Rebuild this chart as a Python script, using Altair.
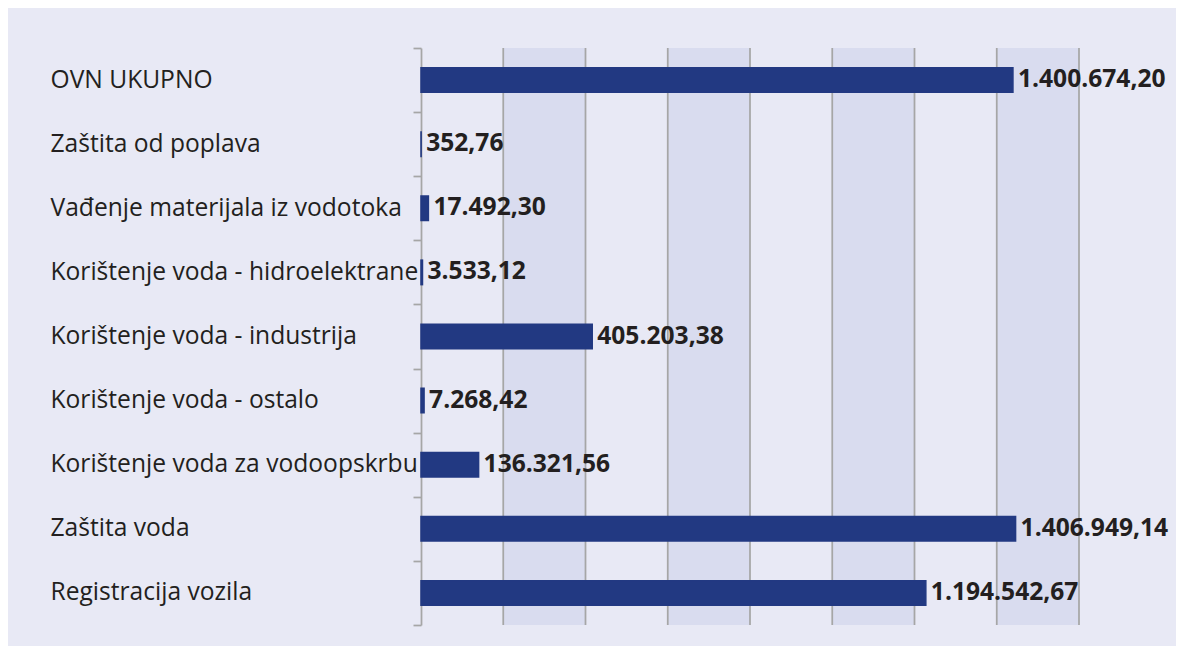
import altair as alt
import pandas as pd

categories = [
    "OVN UKUPNO",
    "Zaštita od poplava",
    "Vađenje materijala iz vodotoka",
    "Korištenje voda - hidroelektrane",
    "Korištenje voda - industrija",
    "Korištenje voda - ostalo",
    "Korištenje voda za vodoopskrbu",
    "Zaštita voda",
    "Registracija vozila",
]
values = [1400674.20, 352.76, 17492.30, 3533.12, 405203.38, 7268.42, 136321.56, 1406949.14, 1194542.67]

AXIS_MAX = 1557000
N_INT = 8
STEP = AXIS_MAX / N_INT


def fmt(v):
    s = f"{v:,.2f}"
    return s.replace(",", "X").replace(".", ",").replace("X", ".")


labels = [fmt(v) for v in values]
df = pd.DataFrame({"cat": categories, "val": values, "lab": labels})

grid_vals = [i * STEP for i in range(1, N_INT + 1)]
grid_df = pd.DataFrame({"g": grid_vals})
band_df = pd.DataFrame({
    "b0": [i * STEP for i in range(1, N_INT, 2)],
    "b1": [(i + 1) * STEP for i in range(1, N_INT, 2)],
})

FONT = "Open Sans"
TXT = "#231f20"
GRID = "#a6a6a6"
FS = 24.6
BAR = "#223982"

xscale = alt.Scale(domain=[0, AXIS_MAX], nice=False, zero=True)
yscale = alt.Scale(paddingInner=0, paddingOuter=0)

bands = alt.Chart(band_df).mark_rect(color="#d9dcef").encode(
    x=alt.X("b0:Q", scale=xscale, axis=None),
    x2="b1:Q",
)

grid = alt.Chart(grid_df).mark_rule(color=GRID, strokeWidth=1.75).encode(
    x=alt.X("g:Q", scale=xscale, axis=None),
)

bars = alt.Chart(df).mark_bar(color=BAR, stroke=BAR, strokeWidth=1.5, size=24.5).encode(
    x=alt.X("val:Q", scale=xscale, axis=None),
    y=alt.Y(
        "cat:N",
        sort=categories,
        scale=yscale,
        axis=alt.Axis(
            title=None,
            labelAlign="left",
            labelPadding=363,
            labelFont=FONT,
            labelFontSize=FS,
            labelColor=TXT,
            labelLimit=0,
            tickSize=8,
            tickBand="extent",
            tickColor=GRID,
            tickWidth=1.75,
            domainColor=GRID,
            domainWidth=1.75,
            grid=False,
        ),
    ),
)

text = alt.Chart(df).mark_text(
    align="left", baseline="middle", dx=5, font=FONT, fontSize=FS,
    fontWeight="bold", color=TXT,
).encode(
    x=alt.X("val:Q", scale=xscale, axis=None),
    y=alt.Y("cat:N", sort=categories, scale=yscale),
    text="lab:N",
)

chart = alt.layer(bands, grid, bars, text).properties(
    width=658,
    height=577,
    background="#e8e9f5",
    padding={"left": 413, "right": 97, "top": 40, "bottom": 21},
    autosize=alt.AutoSizeParams(type="none"),
).configure_view(stroke=None)

chart.save("out.html", embed_options={"renderer": "svg", "actions": False})
